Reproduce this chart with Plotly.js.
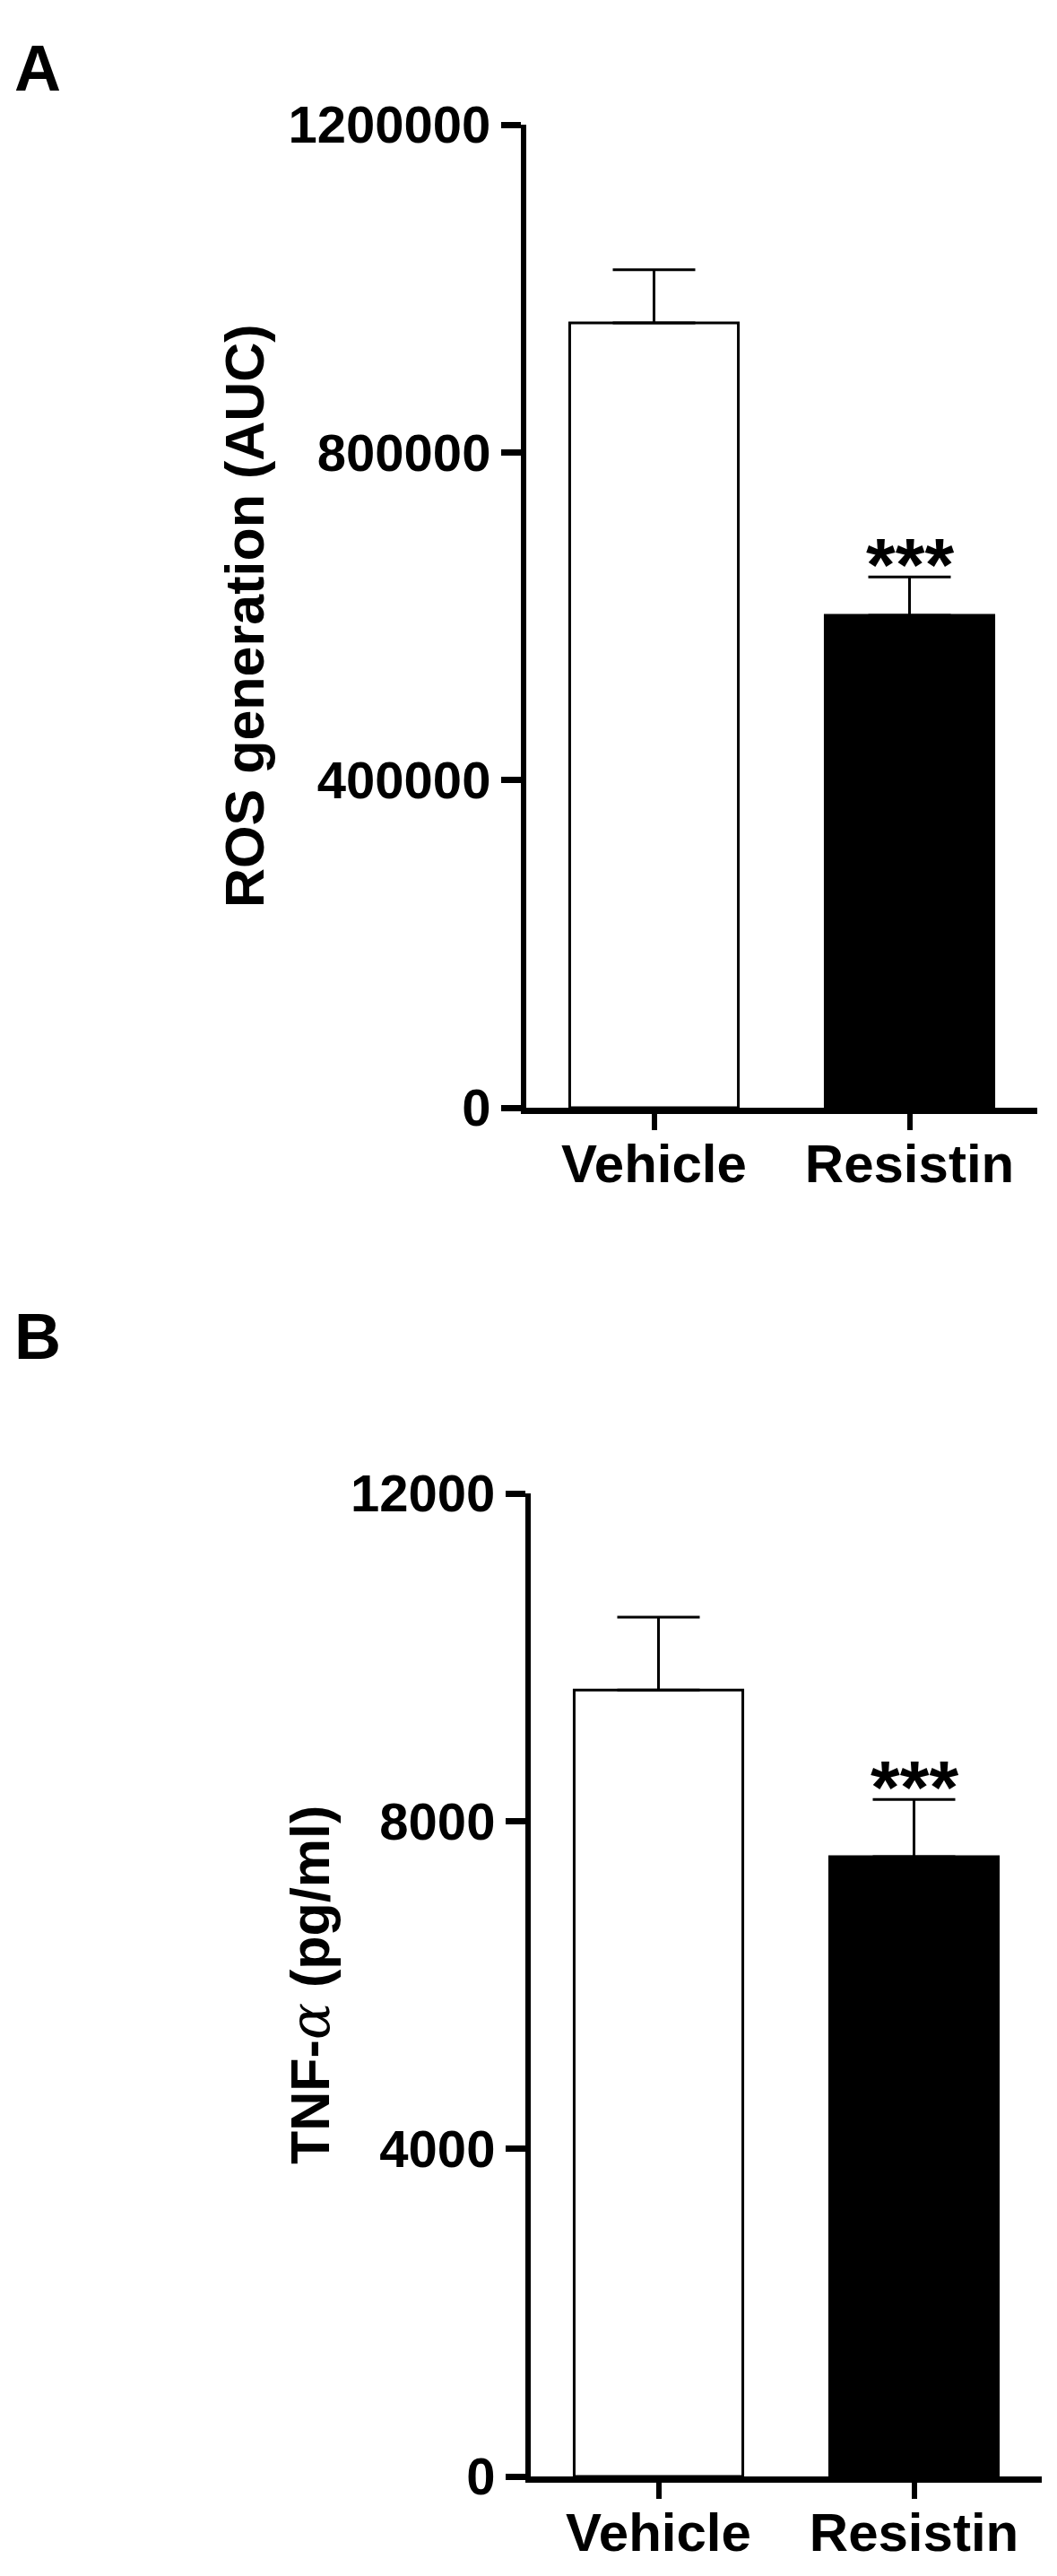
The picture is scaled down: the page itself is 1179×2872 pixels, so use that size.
<!DOCTYPE html>
<html>
<head>
<meta charset="utf-8">
<script src="https://cdn.plot.ly/plotly-3.0.1.min.js"></script>
<style>
  html, body { margin: 0; padding: 0; background: #fff; }
  #chart { width: 1179px; height: 2872px; }
</style>
</head>
<body>
<div id="chart"></div>
<script>
const groups = ['Vehicle', 'Resistin'];
const barColors = ['#ffffff', '#000000'];

// panel A: ROS generation (AUC)
const rosMean = [958000, 601000];
const rosSem = [65000, 47000];
const rosTicks = [0, 400000, 800000, 1200000];

// panel B: TNF-alpha (pg/ml)
const tnfMean = [9600, 7565];
const tnfSem = [890, 700];
const tnfTicks = [0, 4000, 8000, 12000];

const FONT = 'Liberation Sans, Arial, sans-serif';
const W = 1179, H = 2872;

// pixel boxes of the two plot areas (left/right, top/bottom)
const domA = { x: [587, 1157], y: [139, 1235] };
const domB = { x: [592, 1162], y: [1665, 2761] };

function barTrace(y, err, xa, ya) {
    return {
        type: 'bar', x: groups, y: y, xaxis: xa, yaxis: ya,
        width: 0.66,
        marker: { color: barColors, line: { color: '#000', width: 3 } },
        error_y: {
            type: 'data', symmetric: false, array: err, arrayminus: [0, 0],
            color: '#000', thickness: 3, width: 46
        },
        hoverinfo: 'skip'
    };
}

const xBase = {
    type: 'category', range: [-0.5, 1.5], fixedrange: true,
    showline: true, linecolor: '#000', linewidth: 7,
    ticks: 'outside', ticklen: 18, tickwidth: 6, tickcolor: '#000',
    ticklabelstandoff: -14,
    showgrid: false, zeroline: false,
    tickfont: { family: FONT, size: 60, color: '#000', weight: 'bold' }
};
const yBase = {
    fixedrange: true, showline: true, linecolor: '#000', linewidth: 6,
    ticks: 'outside', ticklen: 22, tickwidth: 7, tickcolor: '#000',
    showgrid: false, zeroline: false, tickmode: 'array',
    tickfont: { family: FONT, size: 58, color: '#000', weight: 'bold' }
};

function yTitle(text, xpx, dom, size) {
    return {
        text: text, textangle: -90, xref: 'paper', yref: 'paper',
        x: xpx / W, y: 1 - (dom.y[0] + dom.y[1]) / 2 / H,
        xanchor: 'center', yanchor: 'middle', showarrow: false,
        font: { family: FONT, size: size, color: '#000', weight: 'bold' }
    };
}

function stars(xa, ya, y) {
    return {
        text: '***', xref: xa, yref: ya, x: groups[1], y: y, yanchor: 'bottom',
        yshift: -36, showarrow: false,
        font: { family: FONT, size: 84, color: '#000', weight: 'bold' }
    };
}

function panelLabel(text, topPx) {
    return {
        text: text, xref: 'paper', yref: 'paper', x: 14 / W, y: 1 - topPx / H,
        xanchor: 'left', yanchor: 'top', showarrow: false,
        font: { family: FONT, size: 72, color: '#000', weight: 'bold' }
    };
}

const layout = {
    width: W, height: H,
    margin: { t: 0, b: 0, l: 0, r: 0 },
    paper_bgcolor: '#fff', plot_bgcolor: 'rgba(0,0,0,0)',
    showlegend: false,
    xaxis: { ...xBase, domain: [domA.x[0] / W, domA.x[1] / W], anchor: 'y' },
    yaxis: {
        ...yBase, domain: [(H - domA.y[1]) / H, (H - domA.y[0]) / H], anchor: 'x',
        range: [0, 1200000], tickvals: rosTicks, ticktext: rosTicks.map(String)
    },
    xaxis2: { ...xBase, domain: [domB.x[0] / W, domB.x[1] / W], anchor: 'y2' },
    yaxis2: {
        ...yBase, domain: [(H - domB.y[1]) / H, (H - domB.y[0]) / H], anchor: 'x2',
        range: [0, 12000], tickvals: tnfTicks, ticktext: tnfTicks.map(String)
    },
    annotations: [
        panelLabel('A', 34),
        panelLabel('B', 1448),
        yTitle('ROS generation (AUC)', 273, domA, 61),
        yTitle('TNF-<span style="font-family:DejaVu Serif;font-weight:normal;font-style:italic">α</span> (pg/ml)', 345, domB, 61),
        stars('x', 'y', rosMean[1] + rosSem[1]),
        stars('x2', 'y2', tnfMean[1] + tnfSem[1])
    ]
};

Plotly.newPlot('chart', [
    barTrace(rosMean, rosSem, 'x', 'y'),
    barTrace(tnfMean, tnfSem, 'x2', 'y2')
], layout, { displayModeBar: false, staticPlot: true });
</script>
</body>
</html>
